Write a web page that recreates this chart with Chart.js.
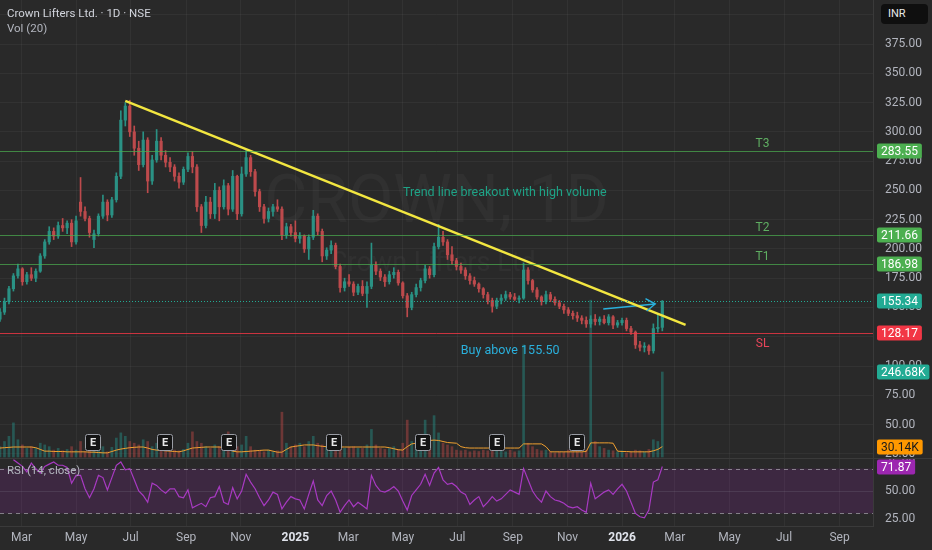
<!DOCTYPE html>
<html lang="en">
<head>
<meta charset="UTF-8">
<title>Crown Lifters Ltd. · 1D · NSE</title>
<style>
    body {
        margin: 0;
        width: 932px;
        height: 550px;
        overflow: hidden;
        background: #292929;
        position: relative;
        font-family: Roboto, "Noto Sans", sans-serif;
    }
    canvas { position: absolute; left: 0; }
    #pricePane { top: 0; }
    #rsiPane { top: 459px; }
    .legend {
        position: absolute;
        left: 7px;
        font-size: 11.5px;
        color: #b2b5be;
        white-space: nowrap;
    }
    #title { top: 6px; color: #d1d4dc; }
    #volTitle { top: 21px; }
    #rsiTitle { top: 463px; }
    #currency {
        position: absolute;
        left: 881px;
        top: 4px;
        width: 47px;
        height: 20px;
        line-height: 20px;
        background: #0f0f0f;
        border-radius: 4px;
        color: #e8e8e8;
        font-size: 11px;
        text-indent: 7px;
    }
</style>
<script src="https://cdn.jsdelivr.net/npm/chart.js@4"></script>
</head>
<body>
<canvas id="pricePane" width="932" height="459"></canvas>
<canvas id="rsiPane" width="932" height="91"></canvas>
<div class="legend" id="title">Crown Lifters Ltd. · 1D · NSE</div>
<div class="legend" id="volTitle">Vol (20)</div>
<div class="legend" id="rsiTitle">RSI (14, close)</div>
<div id="currency">INR</div>
<script>
// x values are calendar days counted from 1 Mar 2024
const monthTickDays = [0, 61, 122, 184, 245, 306, 365, 426, 487, 549, 610, 671, 730, 791, 852, 914];
const monthTickLabels = ['Mar', 'May', 'Jul', 'Sep', 'Nov', '2025', 'Mar', 'May', 'Jul', 'Sep', 'Nov', '2026', 'Mar', 'May', 'Jul', 'Sep'];
const firstBarDay = -24;
const barStepDays = 5;

const opens = [
    140, 146, 155, 166, 177, 183, 172, 178, 175, 181,
    194, 206, 215, 211, 220, 218, 222, 206, 240, 232,
    226, 208, 213, 228, 240, 229, 242, 262, 310, 322,
    300, 286, 272, 293, 258, 276, 292, 280, 274, 270,
    262, 257, 268, 279, 270, 236, 220, 240, 230, 250,
    236, 254, 234, 262, 230, 264, 278, 266, 249, 236,
    226, 232, 236, 234, 212, 219, 214, 209, 211, 200,
    210, 228, 215, 194, 199, 203, 185, 167, 172, 170,
    163, 168, 162, 168, 186, 181, 176, 172, 178, 180,
    171, 160, 150, 161, 167, 173, 183, 178, 202, 210,
    206, 195, 190, 185, 182, 177, 173, 170, 166, 161,
    156, 151, 156, 158, 161, 159, 157, 158, 182, 173,
    165, 159, 155, 161, 157, 154, 151, 148, 145, 143,
    141, 139, 136, 140, 138, 140, 137, 142, 135, 137,
    139, 132, 129, 118, 116, 117, 113, 132, 133
];
const highs = [
    149, 158, 168, 179, 187, 184, 180, 184, 183, 196,
    208, 219, 218, 223, 226, 224, 225, 228, 261, 236,
    228, 216, 230, 246, 242, 244, 265, 318, 325, 327,
    305, 292, 300, 295, 280, 302, 295, 284, 278, 272,
    265, 270, 282, 283, 272, 238, 245, 244, 256, 253,
    259, 256, 267, 263, 270, 284, 280, 268, 251, 238,
    235, 238, 242, 236, 222, 221, 224, 214, 212, 212,
    233, 230, 217, 201, 207, 205, 187, 175, 178, 172,
    170, 173, 172, 205, 189, 183, 178, 181, 184, 182,
    172, 162, 163, 170, 175, 186, 185, 205, 221, 215,
    208, 202, 192, 188, 184, 179, 176, 171, 167, 163,
    158, 158, 161, 164, 163, 162, 160, 188, 184, 174,
    167, 160, 164, 163, 159, 156, 153, 150, 147, 146,
    143, 142, 143, 144, 142, 143, 144, 143, 139, 141,
    141, 134, 130, 121, 120, 118, 136, 145, 156
];
const lows = [
    138, 144, 153, 164, 175, 169, 170, 173, 172, 180,
    192, 204, 208, 209, 215, 213, 202, 204, 228, 224,
    210, 201, 211, 226, 224, 227, 240, 260, 305, 296,
    280, 267, 270, 248, 255, 274, 276, 270, 266, 258,
    252, 255, 266, 265, 232, 214, 218, 226, 226, 224,
    234, 229, 232, 225, 228, 262, 262, 245, 232, 222,
    223, 228, 232, 208, 209, 211, 206, 205, 197, 191,
    208, 212, 189, 191, 196, 183, 163, 164, 168, 160,
    161, 160, 150, 166, 178, 173, 168, 170, 175, 169,
    158, 142, 148, 159, 164, 171, 175, 176, 200, 203,
    191, 187, 182, 179, 174, 170, 168, 163, 158, 153,
    146, 149, 153, 156, 157, 156, 154, 157, 170, 163,
    157, 152, 153, 155, 152, 149, 145, 143, 140, 138,
    136, 133, 133, 135, 135, 136, 135, 132, 133, 135,
    130, 127, 115, 113, 112, 110, 111, 129, 130
];
const closes = [
    146, 155, 166, 177, 183, 172, 178, 175, 181, 194,
    206, 215, 211, 220, 218, 222, 206, 224, 232, 226,
    214, 213, 228, 240, 229, 242, 262, 310, 322, 300,
    286, 272, 293, 258, 276, 292, 280, 274, 270, 262,
    257, 268, 279, 270, 236, 220, 240, 230, 250, 236,
    254, 234, 262, 230, 264, 278, 266, 249, 236, 226,
    232, 236, 234, 212, 219, 214, 209, 211, 200, 210,
    228, 215, 194, 199, 203, 185, 167, 172, 170, 163,
    168, 162, 168, 186, 181, 176, 172, 178, 180, 171,
    160, 150, 161, 167, 173, 183, 178, 202, 210, 206,
    195, 190, 185, 182, 177, 173, 170, 166, 161, 156,
    151, 156, 158, 161, 159, 157, 158, 182, 173, 165,
    159, 155, 161, 157, 154, 151, 148, 145, 143, 141,
    139, 136, 140, 138, 140, 137, 142, 135, 137, 139,
    132, 129, 118, 116, 117, 113, 132, 133, 155.34
];
// volume in thousands of shares
const volumesK = [
    30, 45, 60, 99, 50, 35, 25, 30, 25, 40,
    35, 30, 20, 25, 18, 22, 30, 20, 45, 15,
    18, 20, 25, 30, 15, 28, 55, 70, 60, 45,
    40, 35, 50, 45, 30, 40, 22, 18, 15, 20,
    18, 22, 40, 73, 45, 40, 30, 25, 35, 30,
    45, 73, 40, 30, 35, 60, 30, 20, 18, 15,
    20, 15, 18, 130, 40, 30, 35, 40, 30, 45,
    60, 40, 35, 30, 28, 30, 40, 25, 28, 30,
    25, 25, 35, 80, 35, 25, 22, 25, 30, 22,
    40, 107, 45, 35, 30, 107, 35, 120, 70, 40,
    35, 30, 20, 18, 20, 15, 18, 16, 20, 18,
    25, 20, 18, 15, 20, 15, 18, 325, 40, 30,
    22, 18, 20, 15, 12, 15, 14, 20, 15, 18,
    14, 20, 455, 45, 30, 25, 20, 18, 15, 18,
    12, 15, 20, 18, 15, 22, 50, 45, 246.68
];
const volumeMaK = [
    26, 27, 28, 29, 29, 29, 29, 29, 27, 22,
    17, 17, 16, 16, 16, 15, 15, 15, 15, 15,
    14, 14, 13, 12, 12, 16, 20, 23, 25, 27,
    28, 29, 29, 26, 22, 20, 19, 18, 17, 16,
    15, 18, 22, 26, 27, 28, 29, 29, 29, 29,
    27, 22, 17, 15, 15, 16, 17, 18, 19, 20,
    20, 17, 14, 14, 22, 29, 31, 33, 35, 35,
    35, 33, 31, 30, 29, 29, 29, 29, 29, 29,
    29, 29, 29, 29, 29, 29, 29, 27, 24, 21,
    20, 30, 38, 40, 43, 46, 48, 49, 48, 45,
    42, 41, 40, 30, 27, 26, 26, 26, 26, 26,
    26, 26, 26, 26, 26, 26, 26, 38, 38, 38,
    38, 38, 30, 15, 15, 15, 15, 15, 15, 15,
    15, 16, 41, 41, 41, 41, 41, 40, 17, 16,
    16, 15, 15, 15, 15, 15, 18, 22, 30.14
];
const rsiValues = [
    null, null, null, 78, 75, 72, 67, 75, 70, 66,
    72, 74, 76, 73, 73, 71, 57, 64, 64, 52,
    44, 52, 64, 62, 51, 62, 73, 76, 69, 70,
    60, 50, 46, 40, 57, 55, 51, 48, 52, 52,
    45, 44, 51, 35, 37, 39, 36, 44, 45, 54,
    40, 38, 53, 43, 50, 65, 58, 52, 44, 37,
    42, 49, 47, 34, 40, 45, 43, 42, 34, 47,
    59, 42, 37, 46, 50, 42, 31, 37, 42, 36,
    40, 37, 34, 64, 55, 50, 49, 51, 54, 50,
    41, 33, 46, 51, 56, 65, 55, 66, 71, 60,
    56, 57, 54, 49, 47, 38, 42, 45, 36, 40,
    45, 41, 43, 47, 51, 49, 47, 70, 60, 50,
    44, 40, 50, 45, 42, 41, 39, 36, 35, 36,
    33, 31, 57, 43, 46, 49, 51, 47, 52, 56,
    50, 40, 30, 27, 26, 33, 58, 60, 71.87
];
const earningsDays = [80, 160, 232, 349, 449, 531, 621];

const levelNames = ['T3', 'T2', 'T1', 'SL'];
const levelValues = [283.55, 211.66, 186.98, 128.17];
const trendLine = [{ x: 116, y: 326.4 }, { x: 742, y: 135.2 }];
const breakoutArrow = [{ x: 650, y: 148.7 }, { x: 708, y: 153.0 }];
const priceRange = [20.6, 412.6];
const volumeRangeK = [-5.8, 1326];
const rsiRange = [18.75, 78.6];
const xRange = [-24, 951.4];

const UP = '#2a9184', DOWN = '#bd4a4c';
const UP_VOL = 'rgba(38,166,154,0.38)', DOWN_VOL = 'rgba(239,83,80,0.34)';
const GREEN = '#4caf50', RED = '#f23645', TEAL = '#22ab94', CYAN = '#2ab0dc';
const GRID = 'rgba(255,255,255,0.045)';
const FONT = 'Roboto, "Noto Sans", sans-serif';

Chart.defaults.font.family = FONT;
Chart.defaults.font.size = 12;
Chart.defaults.color = '#b2b5be';

const barDays = closes.map((_, i) => firstBarDay + i * barStepDays);
const isUp = closes.map((c, i) => c >= opens[i]);
const lastI = closes.length - 1;

function fitRight(scale) {
    scale.width = 59;
    scale.paddingTop = 0;
    scale.paddingBottom = 0;
}
function monthTicks(scale) {
    scale.ticks = monthTickDays.map(v => ({ value: v }));
}
function roundRect(ctx, x, y, w, h, r) {
    ctx.beginPath();
    ctx.moveTo(x + r, y);
    ctx.arcTo(x + w, y, x + w, y + h, r);
    ctx.arcTo(x + w, y + h, x, y + h, r);
    ctx.arcTo(x, y + h, x, y, r);
    ctx.arcTo(x, y, x + w, y, r);
    ctx.closePath();
}
function badge(ctx, scale, y, text, bg, fg) {
    ctx.save();
    ctx.font = '12px ' + FONT;
    const w = ctx.measureText(text).width + 8;
    ctx.fillStyle = bg;
    roundRect(ctx, scale.left + 4, Math.round(y) - 7.5, w, 15, 2);
    ctx.fill();
    ctx.fillStyle = fg;
    ctx.textAlign = 'left';
    ctx.textBaseline = 'middle';
    ctx.fillText(text, scale.left + 8, Math.round(y) + 0.5);
    ctx.restore();
}

const priceDecor = {
    id: 'priceDecor',
    beforeDatasetsDraw(chart) {
        const { ctx, chartArea: a } = chart;
        ctx.save();
        ctx.fillStyle = 'rgba(255,255,255,0.035)';
        ctx.textAlign = 'center';
        ctx.textBaseline = 'middle';
        const cx = (a.left + a.right) / 2;
        ctx.font = '66px ' + FONT;
        ctx.fillText('CROWN, 1D', cx, 205);
        ctx.font = '27px ' + FONT;
        ctx.fillText('Crown Lifters Ltd.', cx, 264);
        ctx.restore();
    },
    afterDatasetsDraw(chart) {
        const { ctx, chartArea: a, scales: { x, y } } = chart;
        ctx.save();
        // target and stop levels
        levelValues.forEach((v, i) => {
            const py = Math.round(y.getPixelForValue(v)) + 0.5;
            const stop = levelNames[i] === 'SL';
            ctx.strokeStyle = stop ? 'rgba(242,54,69,0.8)' : 'rgba(76,175,80,0.7)';
            ctx.lineWidth = 1;
            ctx.beginPath();
            ctx.moveTo(a.left, py);
            ctx.lineTo(a.right, py);
            ctx.stroke();
            ctx.font = '12px ' + FONT;
            ctx.textAlign = 'center';
            ctx.textBaseline = 'middle';
            ctx.fillStyle = stop ? '#e8455a' : '#5fae62';
            ctx.fillText(levelNames[i], x.getPixelForValue(828), py + (stop ? 10 : -8));
        });
        // last price line
        const lp = Math.round(y.getPixelForValue(closes[lastI])) + 0.5;
        ctx.strokeStyle = TEAL;
        ctx.setLineDash([1, 2]);
        ctx.beginPath();
        ctx.moveTo(a.left, lp);
        ctx.lineTo(a.right, lp);
        ctx.stroke();
        ctx.setLineDash([]);
        // breakout arrow head
        const p0 = { x: x.getPixelForValue(breakoutArrow[0].x), y: y.getPixelForValue(breakoutArrow[0].y) };
        const p1 = { x: x.getPixelForValue(breakoutArrow[1].x), y: y.getPixelForValue(breakoutArrow[1].y) };
        const ang = Math.atan2(p1.y - p0.y, p1.x - p0.x);
        ctx.strokeStyle = CYAN;
        ctx.lineWidth = 1.5;
        ctx.beginPath();
        ctx.moveTo(p1.x - 11 * Math.cos(ang - 0.6), p1.y - 11 * Math.sin(ang - 0.6));
        ctx.lineTo(p1.x, p1.y);
        ctx.lineTo(p1.x - 11 * Math.cos(ang + 0.6), p1.y - 11 * Math.sin(ang + 0.6));
        ctx.stroke();
        // notes
        ctx.font = '12.5px ' + FONT;
        ctx.textAlign = 'center';
        ctx.textBaseline = 'middle';
        ctx.fillStyle = '#1fa286';
        ctx.fillText('Trend line breakout with high volume', x.getPixelForValue(540), y.getPixelForValue(247.8));
        ctx.fillStyle = CYAN;
        ctx.fillText('Buy above 155.50', x.getPixelForValue(546), y.getPixelForValue(112.8));
        // earnings markers
        earningsDays.forEach(d => {
            const px = Math.round(x.getPixelForValue(d));
            const py = a.bottom - 16;
            ctx.fillStyle = '#141414';
            ctx.strokeStyle = '#9a9da5';
            ctx.lineWidth = 1;
            roundRect(ctx, px - 7.5, py - 8.5, 15, 16, 2);
            ctx.fill();
            ctx.stroke();
            ctx.fillStyle = '#e6e6e6';
            ctx.font = 'bold 11px ' + FONT;
            ctx.fillText('E', px, py);
        });
        ctx.restore();
    },
    afterDraw(chart) {
        const { ctx, scales: { y, vol } } = chart;
        ctx.save();
        ctx.strokeStyle = '#3a3a3a';
        ctx.beginPath();
        ctx.moveTo(0, chart.height - 0.5);
        ctx.lineTo(chart.width, chart.height - 0.5);
        ctx.stroke();
        ctx.restore();
        levelValues.forEach((v, i) => {
            badge(ctx, y, y.getPixelForValue(v), v.toFixed(2), levelNames[i] === 'SL' ? RED : GREEN, '#ffffff');
        });
        badge(ctx, y, y.getPixelForValue(closes[lastI]), closes[lastI].toFixed(2), TEAL, '#ffffff');
        badge(ctx, y, vol.getPixelForValue(volumesK[lastI]), volumesK[lastI].toFixed(2) + 'K', TEAL, '#ffffff');
        badge(ctx, y, vol.getPixelForValue(volumeMaK[lastI]), volumeMaK[lastI].toFixed(2) + 'K', '#ff9800', '#1a1a1a');
    }
};

new Chart(document.getElementById('pricePane'), {
    type: 'bar',
    data: {
        datasets: [
            {
                type: 'line',
                data: trendLine,
                yAxisID: 'y',
                borderColor: '#f2e640',
                borderWidth: 2.5,
                pointRadius: 0,
                order: 1
            },
            {
                type: 'line',
                data: breakoutArrow,
                yAxisID: 'y',
                borderColor: CYAN,
                borderWidth: 1.5,
                pointRadius: 0,
                order: 1
            },
            {
                data: barDays.map((d, i) => ({ x: d, y: [opens[i], closes[i]] })),
                yAxisID: 'y',
                backgroundColor: isUp.map(u => u ? UP : DOWN),
                barThickness: 2.5,
                minBarLength: 1,
                grouped: false,
                order: 3
            },
            {
                data: barDays.map((d, i) => ({ x: d, y: [lows[i], highs[i]] })),
                yAxisID: 'y',
                backgroundColor: isUp.map(u => u ? UP : DOWN),
                barThickness: 1,
                grouped: false,
                order: 4
            },
            {
                type: 'line',
                data: barDays.map((d, i) => ({ x: d, y: volumeMaK[i] })),
                yAxisID: 'vol',
                borderColor: '#f0a030',
                borderWidth: 1,
                pointRadius: 0,
                order: 5
            },
            {
                data: barDays.map((d, i) => ({ x: d, y: volumesK[i] })),
                yAxisID: 'vol',
                backgroundColor: isUp.map(u => u ? UP_VOL : DOWN_VOL),
                barThickness: 2,
                grouped: false,
                order: 6
            }
        ]
    },
    options: {
        responsive: false,
        animation: false,
        events: [],
        layout: { padding: 0 },
        plugins: { legend: { display: false }, tooltip: { enabled: false } },
        scales: {
            x: {
                type: 'linear',
                min: xRange[0],
                max: xRange[1],
                offset: false,
                afterBuildTicks: monthTicks,
                afterFit: s => { s.height = 0; s.paddingLeft = 0; s.paddingRight = 0; },
                ticks: { display: false },
                grid: { color: GRID, drawTicks: false, offset: false },
                border: { display: false }
            },
            y: {
                position: 'right',
                min: priceRange[0],
                max: priceRange[1],
                afterFit: fitRight,
                ticks: {
                    stepSize: 25,
                    includeBounds: false,
                    padding: 12,
                    color: '#b2b5be',
                    callback: v => v.toFixed(2)
                },
                grid: { color: GRID, drawTicks: false },
                border: { display: true, color: '#3a3a3a' }
            },
            vol: {
                display: false,
                min: volumeRangeK[0],
                max: volumeRangeK[1]
            }
        }
    },
    plugins: [priceDecor]
});

const rsiDecor = {
    id: 'rsiDecor',
    beforeDatasetsDraw(chart) {
        const { ctx, chartArea: a, scales: { y } } = chart;
        const top = y.getPixelForValue(70), bottom = y.getPixelForValue(30);
        ctx.save();
        ctx.fillStyle = 'rgba(156,39,176,0.18)';
        ctx.fillRect(a.left, top, a.right - a.left, bottom - top);
        const mid = Math.round(y.getPixelForValue(50)) + 0.5;
        ctx.strokeStyle = 'rgba(149,152,161,0.18)';
        ctx.beginPath();
        ctx.moveTo(a.left, mid);
        ctx.lineTo(a.right, mid);
        ctx.stroke();
        ctx.strokeStyle = 'rgba(200,200,205,0.55)';
        ctx.setLineDash([4, 4]);
        [70, 30].forEach(v => {
            const py = Math.round(y.getPixelForValue(v)) + 0.5;
            ctx.beginPath();
            ctx.moveTo(a.left, py);
            ctx.lineTo(a.right, py);
            ctx.stroke();
        });
        ctx.restore();
    },
    afterDraw(chart) {
        const y = chart.scales.y;
        badge(chart.ctx, y, y.getPixelForValue(rsiValues[lastI]), rsiValues[lastI].toFixed(2), '#9c27b0', '#ffffff');
    }
};

new Chart(document.getElementById('rsiPane'), {
    type: 'line',
    data: {
        datasets: [{
            data: barDays.map((d, i) => ({ x: d, y: rsiValues[i] })),
            borderColor: '#a83ac2',
            borderWidth: 1.2,
            pointRadius: 0,
            spanGaps: false
        }]
    },
    options: {
        responsive: false,
        animation: false,
        events: [],
        layout: { padding: 0 },
        plugins: { legend: { display: false }, tooltip: { enabled: false } },
        scales: {
            x: {
                type: 'linear',
                min: xRange[0],
                max: xRange[1],
                afterBuildTicks: monthTicks,
                afterFit: s => { s.height = 24; s.paddingLeft = 0; s.paddingRight = 0; },
                ticks: {
                    autoSkip: false,
                    maxRotation: 0,
                    padding: 5,
                    callback: (v, i) => monthTickLabels[i],
                    color: c => monthTickLabels[c.index] && monthTickLabels[c.index].length === 4 ? '#e0e3eb' : '#b2b5be',
                    font: c => ({ size: 12, weight: monthTickLabels[c.index] && monthTickLabels[c.index].length === 4 ? 'bold' : 'normal' })
                },
                grid: { color: GRID, drawTicks: false },
                border: { display: true, color: '#3a3a3a' }
            },
            y: {
                position: 'right',
                min: rsiRange[0],
                max: rsiRange[1],
                afterFit: fitRight,
                ticks: {
                    stepSize: 25,
                    includeBounds: false,
                    padding: 12,
                    callback: v => v.toFixed(2)
                },
                grid: { display: false, drawTicks: false },
                border: { display: true, color: '#3a3a3a' }
            }
        }
    },
    plugins: [rsiDecor]
});
</script>
</body>
</html>
